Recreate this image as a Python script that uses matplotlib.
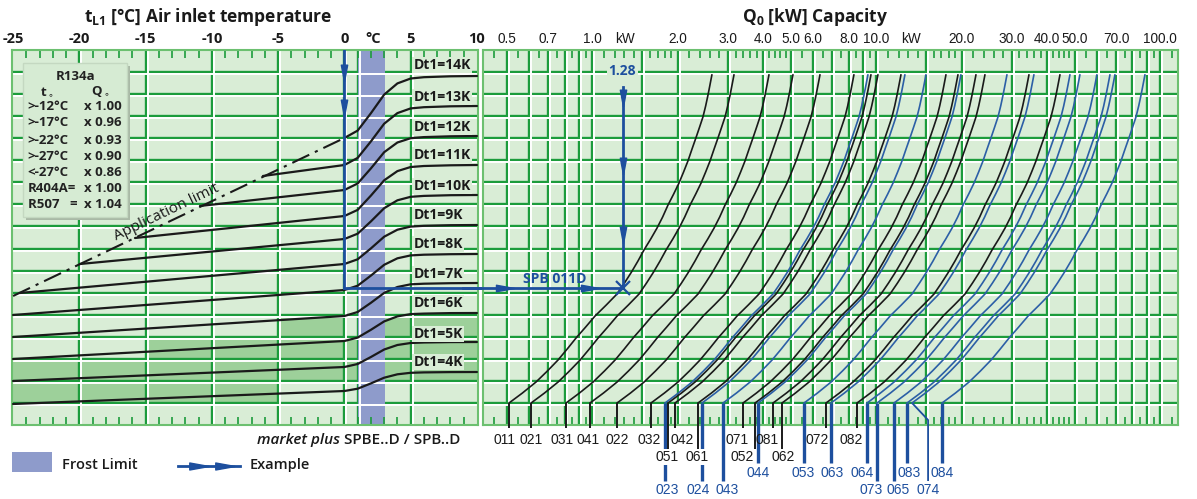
import numpy as np
import matplotlib
matplotlib.use("Agg")
import matplotlib.pyplot as plt
from matplotlib.transforms import offset_copy
from matplotlib.patches import Rectangle

plt.rcParams['font.family'] = ['Open Sans', 'DejaVu Sans']
plt.rcParams['mathtext.fontset'] = 'dejavusans'
NARROW = ['Liberation Sans', 'DejaVu Sans']

# ---------------- left panel: air inlet temperature ----------------
temp_ticks = [-25, -20, -15, -10, -5, 0, 5, 10]
dt_names = ['Dt1=4K', 'Dt1=5K', 'Dt1=6K', 'Dt1=7K', 'Dt1=8K', 'Dt1=9K',
            'Dt1=10K', 'Dt1=11K', 'Dt1=12K', 'Dt1=13K', 'Dt1=14K']
# first point of every Dt1 curve (on the left edge or on the application limit)
dt_start_t = [-25, -25, -25, -25, -25, -24.5, -19.95, -15.8, -10.9, -6.15, 0]
dt_start_h = [21, 44, 66, 88, 110, 132, 161, 187, 219, 249, 287]
# levels through the frost zone
bend_t = [0, 1, 2, 3, 4, 5, 6, 8, 10]
dt_levels = [
    [34, 36.3, 41.6, 47.3, 50.7, 52.2, 52.6, 52.9, 53],
    [58, 61, 68, 75.5, 80, 82, 82.5, 82.9, 83],
    [84, 87.4, 95.2, 103.6, 108.6, 110.9, 111.4, 111.9, 112],
    [109, 113, 122.2, 132.1, 138, 140.7, 141.3, 141.8, 142],
    [135, 139.3, 149.4, 160.2, 166.7, 169.6, 170.3, 170.8, 171],
    [161, 165.7, 176.6, 188.3, 195.3, 198.4, 199.2, 199.8, 200],
    [186, 191.3, 203.6, 216.8, 224.7, 228.2, 229.1, 229.8, 230],
    [209, 215.1, 229.4, 244.7, 253.9, 258, 259, 259.7, 260],
    [235, 241.5, 256.6, 272.8, 282.5, 286.8, 287.9, 288.7, 289],
    [260, 267.1, 283.6, 301.3, 311.9, 316.6, 317.8, 318.7, 319],
    [287, 294.4, 311.8, 330.4, 341.6, 346.5, 347.8, 348.7, 349],
]
dt_label_h = [63, 91, 122, 151, 181, 210, 239, 270, 298, 328, 360]
app_limit_t = [-25, 0]
app_limit_h = [129, 287]
frost_t = [1.0, 3.1]
# darker recommended zone: (t0, t1, h0, h1)
dark_cells = [(-25, -15, 22.06, 66.2), (-15, -5, 22.06, 88.2), (-5, 0, 44.1, 110.3),
              (0, 1, 44.1, 88.2), (3.1, 10.1, 44.1, 110.3)]

factor_rows = [('R134a', ''), ('t$_\\circ$', 'Q$_\\circ$'),
               ('>-12°C', 'x 1.00'), ('>-17°C', 'x 0.96'), ('>-22°C', 'x 0.93'),
               ('>-27°C', 'x 0.90'), ('<-27°C', 'x 0.86'),
               ('R404A=', 'x 1.00'), ('R507   =', 'x 1.04')]

# ---------------- right panel: capacity ----------------
cap_ticks = [0.5, 0.7, 1.0, 1.307, 2.0, 3.0, 4.0, 5.0, 6.0, 8.0, 10.0, 13.25,
             20.0, 30.0, 40.0, 50.0, 70.0, 100.0]
cap_labels = ['0.5', '0.7', '1.0', 'kW', '2.0', '3.0', '4.0', '5.0', '6.0', '8.0',
              '10.0', 'kW', '20.0', '30.0', '40.0', '50.0', '70.0', '100.0']
cap_grid = [0.5, 0.6, 0.7, 0.8, 0.9, 1.0, 1.5, 2, 3, 4, 5, 6, 7, 8, 9, 10, 15,
            20, 30, 40, 50, 60, 70, 80, 90, 100]
# common shape of the capacity curves: level -> factor on the base capacity
level_h = [22, 32, 43, 54, 65, 76, 87, 98, 109, 120, 131, 142, 153, 164, 175, 186,
           197, 208, 220, 231, 242, 253, 264, 276, 287, 298, 308, 319, 330, 340, 350]
level_factor = [1.0, 1.115, 1.245, 1.365, 1.488, 1.603, 1.722, 1.862, 2.009, 2.20,
                2.40, 2.55, 2.70, 2.845, 2.987, 3.155, 3.321, 3.475, 3.630, 3.800,
                3.968, 4.118, 4.266, 4.410, 4.550, 4.690, 4.818, 4.925, 5.02, 5.10,
                5.18]

models = ['011', '021', '031', '041', '022', '032', '023', '051', '042', '061',
          '024', '043', '071', '052', '044', '081', '062', '053', '072', '063',
          '082', '064', '073', '065', '083', '074', '084']
model_base = [0.510, 0.610, 0.810, 0.984, 1.225, 1.613, 1.807, 1.852, 1.960, 2.362,
              2.439, 2.893, 3.402, 3.750, 3.841, 4.339, 4.667, 5.579, 6.668, 6.942,
              8.574, 9.297, 10.08, 11.57, 12.86, 13.39, 17.08]
model_blue = [0, 0, 0, 0, 0, 0, 1, 0, 0, 0,
              1, 1, 0, 0, 1, 0, 0, 1, 0, 1,
              0, 1, 1, 1, 1, 1, 1]
label_row = [1, 1, 1, 1, 1, 1, 4, 2, 1, 2,
             4, 4, 1, 2, 3, 1, 2, 3, 1, 3,
             1, 3, 4, 4, 3, 4, 3]
label_x = [0.492, 0.610, 0.784, 0.968, 1.225, 1.587, 1.837, 1.837, 2.074, 2.343,
           2.362, 2.987, 3.240, 3.375, 3.841, 4.133, 4.705, 5.534, 6.200, 6.998,
           8.166, 8.926, 9.603, 11.96, 13.07, 15.25, 17.08]
stem_x = list(model_base)
stem_x[models.index('074')] = 15.25

example_temp = 0
example_level = 137
example_cap = 1.28

# ---------------- style ----------------
BG = '#d9edd6'
GREEN = '#1c9c3c'
DARK = '#9dd09a'
FROST = '#8e9bcb'
BLUE = '#1d4f9e'
CBLUE = '#2c5fa6'
INK = '#1a1a1a'
W, H = 1197, 499
H_TOP = 375.0
row_h = H_TOP / 17
grid_h = [row_h * k for k in range(1, 17)]

fig = plt.figure(figsize=(W / 100, H / 100), dpi=100)


def px_axes(x0, y0, x1, y1):
    return fig.add_axes([x0 / W, 1 - y1 / H, (x1 - x0) / W, (y1 - y0) / H])


ax_l = px_axes(12, 50, 478, 425)
ax_r = px_axes(483, 50, 1178, 425)
ax_l.set_xlim(-25.08, 10.08)
ax_r.set_xscale('log')
ax_r.set_xlim(0.413, 115.7)

down = [(0, -1), (-0.38, 1), (0.38, 1), (0, -1)]
right = [(1, 0), (-1, 0.36), (-1, -0.36), (1, 0)]


def emboss(ax, xs):
    tw = offset_copy(ax.transData, fig=fig, x=2, y=-2, units='dots')
    for x in xs:
        ax.plot([x, x], [0, H_TOP], color=GREEN, lw=1.7, zorder=1, solid_capstyle='butt')
    for h in grid_h:
        ax.axhline(h, color=GREEN, lw=1.7, zorder=1)
    for x in xs:
        ax.plot([x, x], [0, H_TOP], color='white', lw=1.4, zorder=2, transform=tw)
    for h in grid_h:
        ax.plot([ax.get_xlim()[0], ax.get_xlim()[1]], [h, h], color='white', lw=1.4,
                zorder=2, transform=tw)


for ax in (ax_l, ax_r):
    ax.set_ylim(0, H_TOP)
    ax.set_facecolor(BG)
    ax.set_yticks([])
    ax.xaxis.tick_top()
    ax.tick_params(axis='x', length=0, pad=3)
    for s in ax.spines.values():
        s.set_color('#6cc070')
        s.set_linewidth(1.5)

# ---- left panel ----
for (t0, t1, h0, h1) in dark_cells:
    ax_l.add_patch(Rectangle((t0, h0), t1 - t0, h1 - h0, color=DARK, lw=0, zorder=0.5))
emboss(ax_l, temp_ticks[1:-1] + frost_t[:1])
ax_l.axvspan(frost_t[0], frost_t[1], color=FROST, lw=0, zorder=1.5)
tw = offset_copy(ax_l.transData, fig=fig, x=2, y=-2, units='dots')
for h in grid_h:
    ax_l.plot(frost_t, [h, h], color='white', lw=1.4, zorder=2, transform=tw)

minor_t = np.arange(-24, 10)
xt = ax_l.get_xaxis_transform()
ax_l.vlines(minor_t, 1 - 8 / 375, 1, transform=xt, color=GREEN, lw=1.2, zorder=2.5)
ax_l.vlines(minor_t, 0, 8 / 375, transform=xt, color=GREEN, lw=1.2, zorder=2.5)

ax_l.set_xticks(temp_ticks + [2.2])
ax_l.set_xticklabels([str(t) for t in temp_ticks] + ['°C'], fontsize=10.5,
                     fontweight='bold', color=INK)

ax_l.plot(app_limit_t, app_limit_h, color=INK, lw=1.5, zorder=4,
          dashes=[9, 3, 1.5, 3])
ax_l.text(-13.4, 213, 'Application limit', rotation=25.6, fontsize=11,
          color=INK, ha='center', va='center', rotation_mode='anchor', zorder=5)

for i, name in enumerate(dt_names):
    ts = [dt_start_t[i]] + bend_t
    hs = [dt_start_h[i]] + dt_levels[i]
    ax_l.plot(ts, hs, color=INK, lw=1.6, zorder=4, solid_capstyle='round',
              solid_joinstyle='round')
    ax_l.text(5.2, dt_label_h[i], name, fontsize=10, fontweight='bold', color=INK,
              ha='left', va='center', zorder=5,
              bbox=dict(boxstyle='square,pad=0.1', fc=BG, ec='none'))

# factor table
ax_l.add_patch(Rectangle((-24.0, 205), 7.85, 154, color='#a9b9a6', lw=0, zorder=5.5))
ax_l.add_patch(Rectangle((-24.25, 208), 7.85, 154, fc='#d6ebd3', ec='#c4d8c1', lw=1,
                         zorder=6))
row_y = [348, 333, 318, 302, 285, 269, 253, 237, 220]
tkw = dict(va='center', fontsize=9.5, fontweight='bold', color='#222222', zorder=7)
for (a, b), y in zip(factor_rows, row_y):
    if b == '':
        ax_l.text(-20.3, y, a, ha='center', **tkw)
    elif a.startswith('t$'):
        ax_l.text(-22.4, y, a, ha='center', **tkw)
        ax_l.text(-18.4, y, b, ha='center', **tkw)
    else:
        ax_l.text(-23.9, y, a, ha='left', **tkw)
        ax_l.text(-16.8, y, b, ha='right', **tkw)

# example path, left part
ax_l.plot([example_temp, example_temp], [H_TOP, example_level], color=BLUE, lw=2, zorder=8)
ax_l.plot([example_temp, 10.5], [example_level, example_level], color=BLUE, lw=2,
          zorder=8, clip_on=False)
ax_l.plot([example_temp] * 2, [352, 317], ls='none', marker=down, ms=12,
          color=BLUE, zorder=9)

# ---- right panel ----
emboss(ax_r, cap_grid)
minor_q = np.concatenate([np.arange(0.45, 1.0, 0.05), np.arange(1.1, 2.0, 0.1),
                          np.arange(2.2, 5.0, 0.2), np.arange(5.5, 10, 0.5),
                          np.arange(11, 20, 1), np.arange(22, 50, 2),
                          np.arange(55, 100, 5), [110]])
xt = ax_r.get_xaxis_transform()
ax_r.vlines(minor_q, 1 - 8 / 375, 1, transform=xt, color=GREEN, lw=1.2, zorder=2.5)
ax_r.vlines(minor_q, 0, 8 / 375, transform=xt, color=GREEN, lw=1.2, zorder=2.5)
ax_r.set_xticks(cap_ticks)
ax_r.set_xticklabels(cap_labels, fontsize=9.8, family=NARROW, color=INK)
ax_r.minorticks_off()

for name, base, blue in zip(models, model_base, model_blue):
    ax_r.plot(base * np.array(level_factor), level_h, color=CBLUE if blue else INK,
              lw=1.2, zorder=4, solid_joinstyle='round')

stem_end = {1: -3, 2: -24, 3: -38, 4: -56}
label_y = {1: -15, 2: -32, 3: -48, 4: -65}
for name, base, sx, blue, row, lx in zip(models, model_base, stem_x, model_blue,
                                         label_row, label_x):
    col = BLUE if blue else INK
    lw = 2.4 if blue else 1.4
    if name == '074':
        lw = 1.3
    ax_r.plot([base, sx, sx], [22, 5, stem_end[row]], color=col, lw=lw,
              clip_on=False, zorder=3, solid_capstyle='butt')
    ax_r.text(lx, label_y[row], name, ha='center', va='center', fontsize=10,
              family=NARROW, color=BLUE if blue else INK, clip_on=False, zorder=6,
              bbox=dict(boxstyle='square,pad=0.05', fc='white', ec='none') if row == 2 else None)

# example path, right part
ax_r.plot([0.35, example_cap], [example_level] * 2, color=BLUE, lw=2, zorder=8,
          clip_on=False)
ax_r.plot([example_cap] * 2, [example_level, 338], color=BLUE, lw=2, zorder=8)
ax_r.plot([0.495, 0.98], [example_level] * 2, ls='none', marker=right, ms=13,
          color=BLUE, zorder=9)
ax_r.plot([example_cap] * 3, [327, 259, 190], ls='none', marker=down, ms=12,
          color=BLUE, zorder=9)
ax_r.plot([example_cap], [example_level], ls='none', marker='x', ms=10, mew=1.6,
          color=BLUE, zorder=9)
ax_r.text(0.74, 146, 'SPB 011D', color=BLUE, fontsize=10, fontweight='bold',
          ha='center', va='center', zorder=9)
ax_r.text(example_cap, 354, '1.28', color=BLUE, fontsize=10, fontweight='bold',
          ha='center', va='center', zorder=9,
          bbox=dict(boxstyle='square,pad=0.1', fc=BG, ec='none'))

# ---- titles and legend ----
ov = fig.add_axes([0, 0, 1, 1])
ov.set_xlim(0, W)
ov.set_ylim(H, 0)
ov.axis('off')
ov.text(208, 17, 't$_\\mathregular{L1}$ [°C] Air inlet temperature', ha='center',
        va='center', fontsize=12.5, fontweight='bold', color=INK)
ov.text(815, 17, 'Q$_\\mathregular{0}$ [kW] Capacity', ha='center', va='center',
        fontsize=12.5, fontweight='bold', color=INK)
series = ov.text(460, 440, 'SPBE..D / SPB..D', ha='right', va='center', fontsize=11,
                 fontweight='semibold', color=INK)
ov.annotate('market plus ', xy=(0, 0.5), xycoords=series, ha='right', va='center',
            fontsize=11, style='italic', fontweight='semibold', color=INK)
ov.add_patch(Rectangle((12, 452), 40, 20, color=FROST, lw=0))
ov.text(62, 465, 'Frost Limit', ha='left', va='center', fontsize=10.5,
        fontweight='semibold', color=INK)
ov.plot([178, 240], [466, 466], color=BLUE, lw=2)
ov.plot([199, 225], [466, 466], ls='none', marker=right, ms=14, color=BLUE)
ov.text(250, 465, 'Example', ha='left', va='center', fontsize=10.5,
        fontweight='semibold', color=INK)

fig.savefig('out.png', dpi=100)
